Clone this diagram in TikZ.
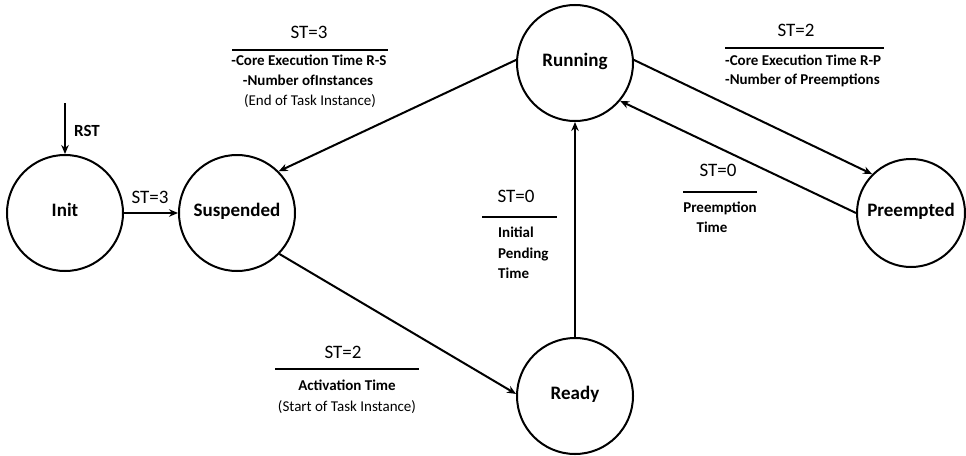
\documentclass[tikz,border=0pt]{standalone}
\usepackage{fontspec}
\setmainfont{Carlito}
\usetikzlibrary{arrows.meta}

\begin{document}
\begin{tikzpicture}[x=1pt, y=-1pt,
  state/.style={circle, draw, line width=2pt, minimum size=116pt, inner sep=0pt,
    font=\fontsize{19}{22}\selectfont\bfseries, text height=0.65em, text depth=0pt},
  trans/.style={line width=2pt, -{Stealth[length=9pt,width=7.5pt]}},
  stlabel/.style={font=\fontsize{19}{22}\selectfont, text height=0.65em, text depth=0pt, inner sep=0pt},
  note/.style={font=\fontsize{15}{18}\selectfont\bfseries, text height=0.65em, text depth=0pt, inner sep=0pt},
  notereg/.style={font=\fontsize{15}{18}\selectfont, text height=0.65em, text depth=0pt, inner sep=0pt},
  rstlabel/.style={font=\fontsize{17}{20}\selectfont\bfseries, text height=0.65em, text depth=0pt, inner sep=0pt},
  divider/.style={line width=1.5pt}
]
\fill[white] (0,0) rectangle (966,455);
\useasboundingbox (0,0) rectangle (966,455);

% states
\node[state] (init)  at (65,213)  {Init};
\node[state] (susp)  at (237,213) {Suspended};
\node[state] (run)   at (575,63)  {Running};
\node[state] (ready) at (575,396) {Ready};
\node[state, minimum size=108pt] (pre) at (911,213) {Preempted};

% transitions
\coordinate (rst) at (65,103);
\draw[trans] (rst) -- (init.north);
\draw[trans] (init.east) -- (susp.west);
\draw[trans] (run.177) -- (susp.45);
\draw[trans] (susp.-44) -- (ready.178);
\draw[trans] (ready.north) -- (run.south);
\draw[trans] (run.3) -- (pre.135);
\draw[trans] (pre.west) -- (run.-40);

% reset and init labels
\node[rstlabel] (rstl) at (87,133) {RST};
\node[stlabel] (st3a) at (150,200) {ST=3};

% Running -> Suspended
\node[stlabel] (st3b) at (309,35) {ST=3};
\coordinate (r1a) at (232,50); \coordinate (r1b) at (388,50);
\draw[divider] (r1a) -- (r1b);
\node[note] (rs1) at (309,62) {-Core Execution Time R-S};
\node[note] (rs2) at (308,82) {-Number ofInstances};
\node[notereg] (rs3) at (310,102) {(End of Task Instance)};

% Running -> Preempted
\node[stlabel] (st2a) at (796,33) {ST=2};
\coordinate (r2a) at (725,48); \coordinate (r2b) at (884,48);
\draw[divider] (r2a) -- (r2b);
\node[note, anchor=west] (rp1) at (725,62) {-Core Execution Time R-P};
\node[note, anchor=west] (rp2) at (725,81) {-Number of Preemptions};

% Ready -> Running
\node[stlabel] (st0a) at (516,199) {ST=0};
\coordinate (r3a) at (482,217); \coordinate (r3b) at (557,217);
\draw[divider] (r3a) -- (r3b);
\node[note, anchor=west] (ip1) at (498,234) {Initial};
\node[note, anchor=west] (ip2) at (498,255) {Pending};
\node[note, anchor=west] (ip3) at (498,275) {Time};

% Preempted -> Running
\node[stlabel] (st0b) at (718,173) {ST=0};
\coordinate (r4a) at (683,192); \coordinate (r4b) at (757,192);
\draw[divider] (r4a) -- (r4b);
\node[note] (pt1) at (720,209) {Preemption};
\node[note] (pt2) at (712,229) {Time};

% Suspended -> Ready
\node[stlabel] (st2b) at (343,355) {ST=2};
\coordinate (r5a) at (275,369); \coordinate (r5b) at (419,369);
\draw[divider] (r5a) -- (r5b);
\node[note] (at1) at (347,387) {Activation Time};
\node[notereg] (at2) at (347,408) {(Start of Task Instance)};
\end{tikzpicture}
\end{document}
